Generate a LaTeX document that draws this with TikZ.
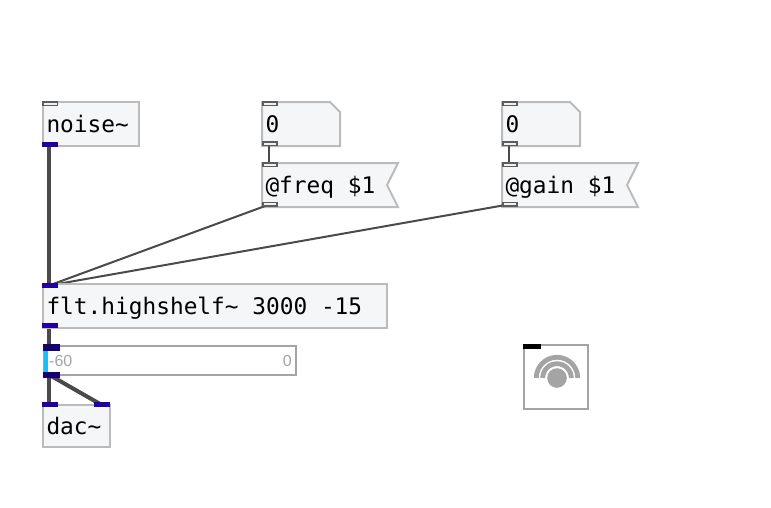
\documentclass[tikz,border=0pt]{standalone}
\usepackage{fontspec}
\setmainfont{Liberation Sans}
\newfontfamily\patchfont{DejaVu Sans Mono}
\usetikzlibrary{calc,positioning,backgrounds}

\definecolor{boxfill}{HTML}{F5F6F8}
\definecolor{boxline}{HTML}{BBBBBB}
\definecolor{meterline}{HTML}{A4A4A4}
\definecolor{cord}{HTML}{4A4A4A}
\definecolor{sigblue}{HTML}{2200A0}
\definecolor{levelblue}{HTML}{17C0F5}

\newcommand{\numshape}[1]{%
	\filldraw[fill=boxfill,draw=boxline,line width=2pt] (#1.north west)
		-- ($(#1.north east)+(-10,0)$) -- ($(#1.north east)+(0,10)$)
		-- (#1.south east) -- (#1.south west) -- cycle;}
\newcommand{\msgshape}[1]{%
	\filldraw[fill=boxfill,draw=boxline,line width=2pt] (#1.north west)
		-- (#1.north east) -- ($(#1.east)+(-11,0)$)
		-- (#1.south east) -- (#1.south west) -- cycle;}

\begin{document}
\begin{tikzpicture}[x=1pt,y=-1pt,
	objbox/.style={anchor=north west,outer sep=0pt,inner xsep=3.5pt,inner ysep=0pt,
		minimum height=44pt,text height=19pt,text depth=2pt,align=flush left,
		font=\patchfont\fontsize{22.8}{24}\selectfont},
	patchbox/.style={objbox,draw=boxline,fill=boxfill,line width=2pt},
	meterbox/.style={anchor=north west,outer sep=0pt,draw=meterline,line width=2pt,inner sep=0pt},
	port/.style={anchor=north west,outer sep=0pt,inner sep=0pt,minimum width=16pt,minimum height=5pt},
	ctlport/.style={port,minimum width=14.4pt,minimum height=3.4pt,fill=black!6,draw=cord!90,line width=1.6pt},
	sigport/.style={port,fill=sigblue},
	meterport/.style={port,minimum width=17pt,minimum height=6.5pt,fill=sigblue!70!black},
	cable/.style={draw=cord,line width=2pt},
	sigcable/.style={draw=cord,line width=4pt},
	meterlabel/.style={text=meterline,inner sep=0pt,font=\fontsize{16}{16}\selectfont},]
	\useasboundingbox (0,0) rectangle (771,507);

	% objects
	\node [patchbox,text width=89pt,minimum width=96pt] (noise) at (43,102) {noise\textasciitilde};
	\node [objbox,text width=71pt,minimum width=78pt] (freqnum) at (262,102) {0};
	\node [objbox,text width=129pt,minimum width=136pt] (freqmsg) at (262,163) {@freq \$1};
	\node [objbox,text width=71pt,minimum width=78pt] (gainnum) at (502,102) {0};
	\node [objbox,text width=129pt,minimum width=136pt] (gainmsg) at (502,163) {@gain \$1};
	\node [patchbox,text width=337pt,minimum width=344pt] (shelf) at (43,284) {flt.highshelf\textasciitilde{} 3000 -15};
	\node [patchbox,text width=60pt,minimum width=67pt,minimum height=41.5pt] (dac) at (43,405) {dac\textasciitilde};
	\node [meterbox,fill=white,minimum width=252pt,minimum height=29.5pt] (meter) at (43.5,345.5) {};
	\node [anchor=north west,fill=levelblue,inner sep=0pt,minimum width=4.5pt,minimum height=23pt] (level) at (43.5,350) {};
	\node [meterlabel,anchor=west] (minus) at (49,361) {-60};
	\node [meterlabel,anchor=east] (zero) at (292,361) {0};
	\node [meterbox,minimum width=64pt,minimum height=64pt] (ezdac) at (523.5,344.5) {};

	% ports
	\node [ctlport] (noisein) at (43,102) {};
	\node [sigport] (noiseout) at (42,142) {};
	\node [ctlport] (freqnumin) at (262.8,102) {};
	\node [ctlport] (freqnumout) at (262.8,142) {};
	\node [ctlport] (freqmsgin) at (262.8,163) {};
	\node [ctlport] (freqmsgout) at (262.8,202.5) {};
	\node [ctlport] (gainnumin) at (502.8,102) {};
	\node [ctlport] (gainnumout) at (502.8,142) {};
	\node [ctlport] (gainmsgin) at (502.8,163) {};
	\node [ctlport] (gainmsgout) at (502.8,202.5) {};
	\node [sigport] (shelfin) at (42,283) {};
	\node [sigport] (shelfout) at (42,323) {};
	\node [meterport] (meterin) at (42.5,344) {};
	\node [meterport] (meterout) at (42.5,371.5) {};
	\node [sigport] (dacleft) at (42,402) {};
	\node [sigport] (dacright) at (94,402) {};
	\node [port,minimum width=18pt,fill=black] (ezdacport) at (523,344) {};

	% speaker icon
	\fill [meterline] (557,378) circle (9.8);
	\draw [meterline,line width=4.8pt] (536.25,378) arc [start angle=180,end angle=360,radius=20.75];
	\draw [meterline,line width=4.8pt] (542.7,378) arc [start angle=180,end angle=360,radius=14.3];

	% cords and outlines go below everything else
	\begin{scope}[on background layer]
		\numshape{freqnum}
		\numshape{gainnum}
		\msgshape{freqmsg}
		\msgshape{gainmsg}
		\draw [sigcable] ([xshift=-1pt]noiseout.center) -- ([xshift=-1pt]shelfin.center);
		\draw [sigcable] ([xshift=-1pt]shelfout.center) -- ([xshift=-2pt]meterin.center);
		\draw [sigcable] ([xshift=-2pt]meterout.center) -- ([xshift=-1pt]dacleft.center);
		\draw [sigcable] ([xshift=-2pt]meterout.center) -- ([xshift=-1pt]dacright.center);
		\draw [cable] ([xshift=-1pt]freqnumout.center) -- ([xshift=-1pt]freqmsgin.center);
		\draw [cable] ([xshift=-1pt]gainnumout.center) -- ([xshift=-1pt]gainmsgin.center);
		\draw [cable] (freqmsgout.center) -- ([xshift=-1pt]shelfin.center);
		\draw [cable] (gainmsgout.center) -- ([xshift=-1pt]shelfin.center);
	\end{scope}
\end{tikzpicture}
\end{document}
